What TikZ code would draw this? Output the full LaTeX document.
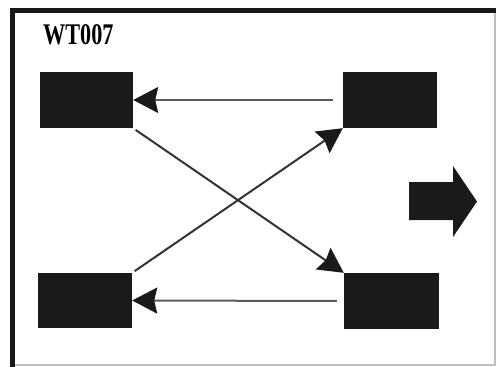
\documentclass[tikz,border=0pt]{standalone}
\usepackage{fontspec}
\setmainfont{Liberation Serif}
\usetikzlibrary{arrows.meta}
\definecolor{boxfill}{HTML}{1A1A1A}
\definecolor{hline}{HTML}{5A5A5A}
\definecolor{dline}{HTML}{333333}
\tikzset{
  blockbox/.style={fill=boxfill, draw=none, inner sep=0pt, minimum width=94pt, minimum height=56pt},
  conn/.style={line width=2pt, -{Stealth[length=25pt,width=26pt,inset=3pt,color=boxfill]}},
  frameheavy/.style={line width=5pt, black!90},
  framelight/.style={line width=1.5pt, black!25}
}
\begin{document}
\begin{tikzpicture}[x=1pt,y=-1pt]
\useasboundingbox (0,0) rectangle (496,367);
\fill[white] (0,0) rectangle (496,367);
% frame
\coordinate (ftl) at (12.5,10.5);
\coordinate (ftr) at (496,10.5);
\coordinate (fbl) at (12.5,367);
\coordinate (frt) at (495,13);
\coordinate (frb) at (495,365);
\coordinate (fbb) at (15,365);
\draw[framelight] (frt) -- (frb) -- (fbb);
\draw[frameheavy] (ftr) -- (10,10.5);
\draw[frameheavy] (ftl) -- (fbl);
% title
\node[anchor=base west, inner sep=0pt] (title) at (43,44.5) {\scalebox{0.74}[1]{\fontsize{30}{30}\selectfont\bfseries WT007}};
% boxes
\node[blockbox, minimum width=93pt] (TL) at (86.5,100) {};
\node[blockbox] (TR) at (390,100) {};
\node[blockbox, minimum height=55pt] (BL) at (85,300.5) {};
\node[blockbox, minimum width=95pt] (BR) at (391.5,301) {};
% connectors
\draw[conn, hline, shorten <=10pt] (TR.west) -- (TL.east);
\draw[conn, hline, shorten <=7pt] (BR.west) -- (BL.east);
\draw[conn, dline, shorten <=3pt] (TL.south east) -- (BR.north west);
\draw[conn, dline, shorten <=3pt] (BL.north east) -- (TR.south west);
% big arrow
\fill[boxfill] (409,182) -- (453,182) -- (453,166) -- (477,201.5) -- (453,237) -- (453,220) -- (409,220) -- cycle;
\end{tikzpicture}
\end{document}
